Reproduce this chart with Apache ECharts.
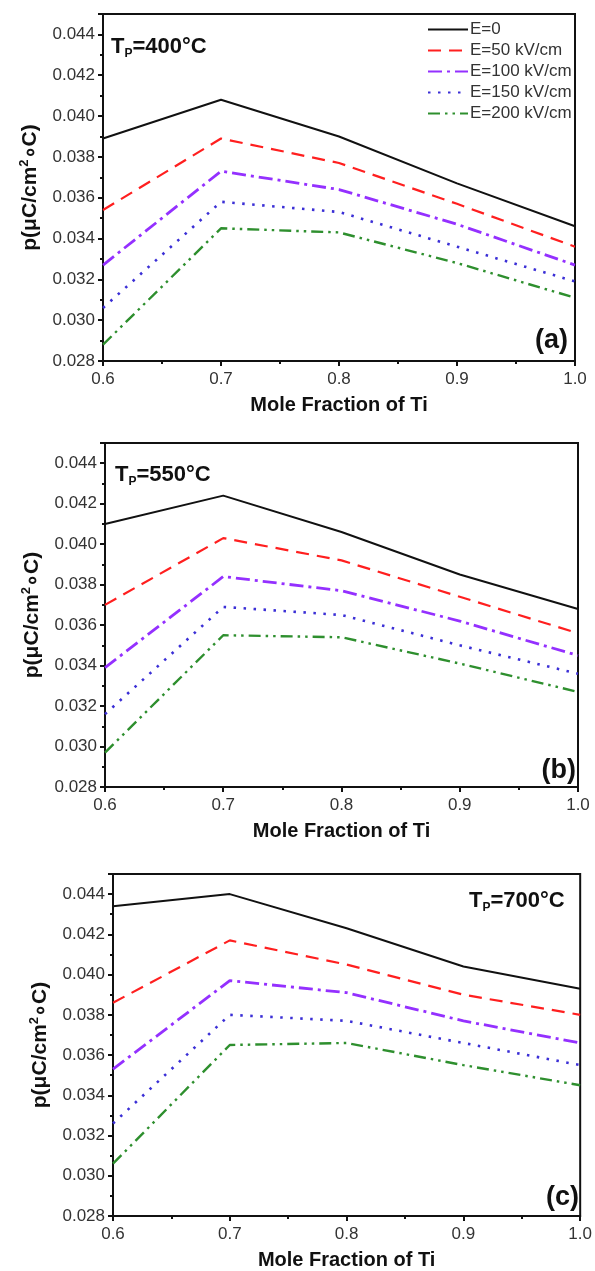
<!DOCTYPE html>
<html>
<head>
<meta charset="utf-8">
<title>p vs Mole Fraction of Ti</title>
<script src="https://cdn.jsdelivr.net/npm/echarts@6/dist/echarts.min.js"></script>
<style>
  html, body { margin: 0; padding: 0; background: #fff; }
  #main { width: 595px; height: 1271px; }
</style>
</head>
<body>
<div id="main"></div>
<script>
// x positions (mole fraction of Ti)
var moleFrac = [0.6, 0.7, 0.8, 0.9, 1.0];
var fieldNames = ['E=0', 'E=50 kV/cm', 'E=100 kV/cm', 'E=150 kV/cm', 'E=200 kV/cm'];
var panelTemps = ['400', '550', '700'];
var panelLetters = ['(a)', '(b)', '(c)'];
var yTicks = [0.028, 0.030, 0.032, 0.034, 0.036, 0.038, 0.040, 0.042, 0.044];

// Tp = 400 C
var p400_E0   = [0.0389, 0.0408, 0.0390, 0.0367, 0.0346];
var p400_E50  = [0.0354, 0.0389, 0.0377, 0.0357, 0.0336];
var p400_E100 = [0.0327, 0.0373, 0.0364, 0.0347, 0.0327];
var p400_E150 = [0.0306, 0.0358, 0.0353, 0.0336, 0.0319];
var p400_E200 = [0.0288, 0.0345, 0.0343, 0.0328, 0.0311];
// Tp = 550 C
var p550_E0   = [0.0410, 0.0424, 0.0406, 0.0385, 0.0368];
var p550_E50  = [0.0370, 0.0403, 0.0392, 0.0374, 0.0356];
var p550_E100 = [0.0339, 0.0384, 0.0377, 0.0362, 0.0345];
var p550_E150 = [0.0316, 0.0369, 0.0365, 0.0350, 0.0336];
var p550_E200 = [0.0297, 0.0355, 0.0354, 0.0341, 0.0327];
// Tp = 700 C
var p700_E0   = [0.0434, 0.0440, 0.0423, 0.0404, 0.0393];
var p700_E50  = [0.0386, 0.0417, 0.0405, 0.0390, 0.0380];
var p700_E100 = [0.0353, 0.0397, 0.0391, 0.0377, 0.0366];
var p700_E150 = [0.0326, 0.0380, 0.0377, 0.0366, 0.0355];
var p700_E200 = [0.0306, 0.0365, 0.0366, 0.0355, 0.0345];

var panelData = [
  [p400_E0, p400_E50, p400_E100, p400_E150, p400_E200],
  [p550_E0, p550_E50, p550_E100, p550_E150, p550_E200],
  [p700_E0, p700_E50, p700_E100, p700_E150, p700_E200]
];

var lineColors = ['#111111', '#ff1f1f', '#9430ff', '#3b2fd6', '#2e8f2e'];
var lineDash = ['solid', [13, 8], [14, 5, 3, 5], [2.5, 7.5], [12, 5, 2.5, 5, 2.5, 5]];
var lineWidths = [2, 2.2, 2.8, 2.6, 2.4];

var grids = [
  {left: 103, top: 14, width: 472, height: 347},
  {left: 105, top: 443, width: 473, height: 344},
  {left: 113, top: 874, width: 470, height: 344}
];

var font = '"Liberation Sans", Arial, sans-serif';
var myChart = echarts.init(document.getElementById('main'));

var xAxes = [], yAxes = [], series = [], graphics = [];
for (var g = 0; g < 3; g++) {
  grids[g].show = true;
  grids[g].borderColor = '#111';
  grids[g].borderWidth = 2;
  grids[g].backgroundColor = 'transparent';

  xAxes.push({
    type: 'value', gridIndex: g, min: 0.6, max: 1.0, interval: 0.1,
    name: 'Mole Fraction of Ti', nameLocation: 'middle', nameGap: 34,
    nameTextStyle: {fontFamily: font, fontSize: 20, fontWeight: 'bold', color: '#111'},
    axisLine: {lineStyle: {color: '#111', width: 2}},
    axisTick: {length: 5, lineStyle: {color: '#111', width: 2}},
    minorTick: {show: true, splitNumber: 2, length: 3, lineStyle: {color: '#111', width: 2}},
    axisLabel: {fontFamily: font, fontSize: 17, color: '#333', margin: 10,
      formatter: function (v) { return v.toFixed(1); }},
    splitLine: {show: false}
  });
  yAxes.push({
    type: 'value', gridIndex: g, min: yTicks[0], max: 0.045, interval: 0.002,
    name: 'p(μC/cm{s|2}∘C)', nameLocation: 'middle', nameGap: 60,
    nameTextStyle: {fontFamily: font, fontSize: 21, fontWeight: 'bold', color: '#111',
      rich: {s: {fontFamily: font, fontSize: 13, fontWeight: 'bold', color: '#111', padding: [0, 0, 12, 0]}}},
    axisLine: {lineStyle: {color: '#111', width: 2}},
    axisTick: {length: 5, lineStyle: {color: '#111', width: 2}},
    minorTick: {show: true, splitNumber: 2, length: 3, lineStyle: {color: '#111', width: 2}},
    axisLabel: {fontFamily: font, fontSize: 17, color: '#333', margin: 8, showMaxLabel: false,
      formatter: function (v) { return v.toFixed(3); }},
    splitLine: {show: false}
  });

  for (var s = 0; s < 5; s++) {
    var vals = panelData[g][s];
    series.push({
      type: 'line', name: fieldNames[s], xAxisIndex: g, yAxisIndex: g,
      data: moleFrac.map(function (x, i) { return [x, vals[i]]; }),
      symbol: 'none', silent: true, animation: false,
      lineStyle: {color: lineColors[s], width: lineWidths[s], type: lineDash[s]},
      itemStyle: {color: lineColors[s]},
      z: 10 - s
    });
  }
}

// Tp labels and panel letters
var tpPos = [[111, 49], [115, 477], [469, 903]];
var letterPos = [[568, 343], [576, 773], [579, 1200]];
for (var k = 0; k < 3; k++) {
  graphics.push({
    type: 'text', left: tpPos[k][0], top: tpPos[k][1] - 13,
    style: {
      text: '{t|T}{p|P}{t|=' + panelTemps[k] + '°C}',
      rich: {
        t: {fontFamily: font, fontSize: 22, fontWeight: 'bold', fill: '#111'},
        p: {fontFamily: font, fontSize: 12, fontWeight: 'bold', fill: '#111', padding: [14, 0, 0, 0]}
      }
    }
  });
  graphics.push({
    type: 'text', right: 595 - letterPos[k][0], top: letterPos[k][1] - 16,
    style: {text: panelLetters[k], fontFamily: font, fontSize: 27, fontWeight: 'bold', fill: '#111'}
  });
}

var option = {
  backgroundColor: '#fff',
  animation: false,
  grid: grids,
  xAxis: xAxes,
  yAxis: yAxes,
  legend: {
    data: fieldNames, orient: 'vertical', left: 422, top: 16,
    itemWidth: 40, itemHeight: 14, itemGap: 4,
    itemStyle: {opacity: 0},
    textStyle: {fontFamily: font, fontSize: 17, color: '#333', padding: [0, 0, 0, -3]},
    selectedMode: false
  },
  graphic: graphics,
  series: series
};
myChart.setOption(option);

window.addEventListener('resize', function () { myChart.resize(); });
</script>
</body>
</html>
